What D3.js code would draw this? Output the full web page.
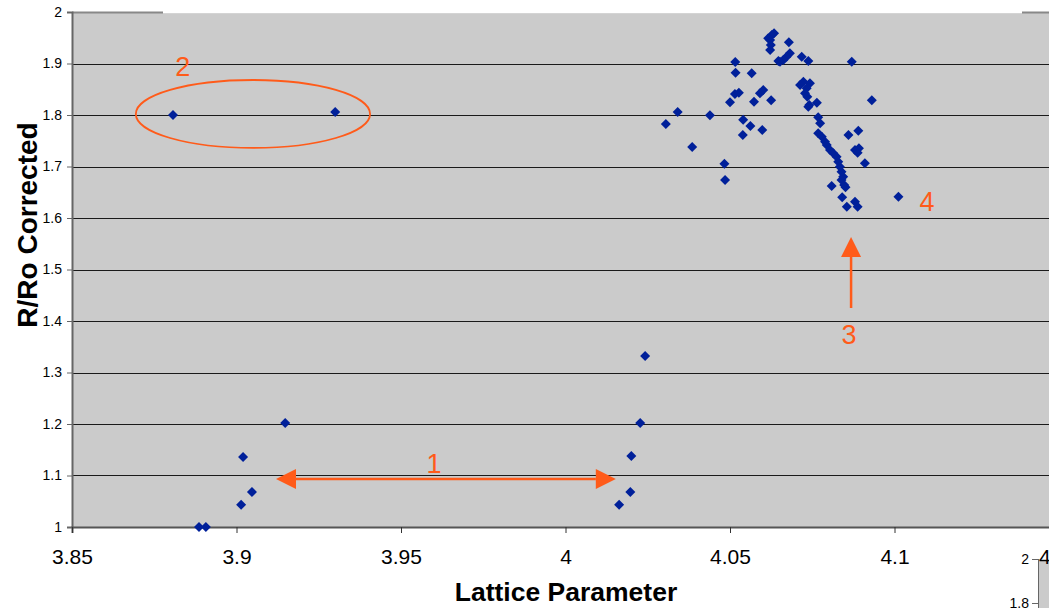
<!DOCTYPE html>
<html>
<head>
<meta charset="utf-8">
<script src="https://cdn.jsdelivr.net/npm/d3@7"></script>
<style>
  body { margin: 0; background: #fff; }
  svg { display: block; font-family: Arial, "Liberation Sans", sans-serif; }
</style>
</head>
<body>
<div id="chart"></div>
<script>
// lattice parameter vs R/Ro corrected
const lowPoints = [
    [3.8807, 1.800], [3.9300, 1.806],
    [3.8886, 1.000], [3.8907, 1.000], [3.9014, 1.043], [3.9047, 1.068],
    [3.9020, 1.136], [3.9148, 1.202],
    [4.0163, 1.043], [4.0197, 1.068], [4.0200, 1.138], [4.0227, 1.202], [4.0242, 1.332]
];

const highPoints = [
    [4.0305, 1.7825], [4.0341, 1.8058], [4.0385, 1.7379], [4.0439, 1.7994], [4.0483, 1.7054], [4.0485, 1.6738],
    [4.0516, 1.9029], [4.0517, 1.8821], [4.0515, 1.8408], [4.0527, 1.8433], [4.0500, 1.8247], [4.0540, 1.7909],
    [4.0562, 1.7786], [4.0539, 1.7612], [4.0566, 1.8810], [4.0591, 1.8421], [4.0601, 1.8485], [4.0573, 1.8258],
    [4.0625, 1.8285], [4.0598, 1.7709],
    [4.0627, 1.9553], [4.0634, 1.9586], [4.0622, 1.9456], [4.0616, 1.9489], [4.0624, 1.9359], [4.0622, 1.9262],
    [4.0679, 1.9412], [4.0682, 1.9198], [4.0672, 1.9132], [4.0662, 1.9068], [4.0652, 1.9035], [4.0647, 1.9049],
    [4.0718, 1.9132], [4.0738, 1.9049], [4.0870, 1.9035],
    [4.0723, 1.8647], [4.0713, 1.8583], [4.0743, 1.8616], [4.0733, 1.8518], [4.0728, 1.8421], [4.0735, 1.8355],
    [4.0741, 1.8194], [4.0764, 1.8239], [4.0931, 1.8285], [4.0738, 1.8161],
    [4.0768, 1.7955], [4.0774, 1.7839], [4.0768, 1.7645], [4.0779, 1.7579], [4.0789, 1.7482], [4.0794, 1.7417],
    [4.0804, 1.7320], [4.0814, 1.7256], [4.0824, 1.7190], [4.0829, 1.7093], [4.0834, 1.6996], [4.0839, 1.6899],
    [4.0844, 1.6802], [4.0839, 1.6738], [4.0847, 1.6641], [4.0851, 1.6596],
    [4.0809, 1.6621], [4.0841, 1.6402], [4.0855, 1.6220], [4.0880, 1.6316], [4.0888, 1.6220],
    [4.0860, 1.7612], [4.0890, 1.7695], [4.0880, 1.7320], [4.0892, 1.7353], [4.0888, 1.7268], [4.0910, 1.7062],
    [4.1012, 1.6414]
];

const xTicks = [3.85, 3.9, 3.95, 4, 4.05, 4.1, 4.15];
const xTickLabels = ["3.85", "3.9", "3.95", "4", "4.05", "4.1", "4.15"];
const yTicks = [1, 1.1, 1.2, 1.3, 1.4, 1.5, 1.6, 1.7, 1.8, 1.9, 2];
const yTickLabels = ["1", "1.1", "1.2", "1.3", "1.4", "1.5", "1.6", "1.7", "1.8", "1.9", "2"];

// annotation numbers: [x, y, text]
const noteLabels = [
    [3.8837, 1.8757, "2"],
    [3.9600, 1.1049, "1"],
    [4.0862, 1.3553, "3"],
    [4.1099, 1.6136, "4"]
];
const ellipseNote = { cx: 3.905, cy: 1.802, rx: 0.0356, ry: 0.066 };
const hArrow = { x1: 3.912, x2: 4.0153, y: 1.0932 };
const vArrow = { x: 4.0868, y1: 1.4252, y2: 1.5631 };

const width = 1049, height = 608;
const orange = "#ff5b1a";
const navy = "#00209a";

const svg = d3.select("#chart")
    .append("svg")
    .attr("width", width)
    .attr("height", height);

const x = d3.scaleLinear().domain([3.85, 4.15]).range([72, 1059]);
const y = d3.scaleLinear().domain([1, 2]).range([527, 12]);

// small piece of a second chart peeking in at bottom right
svg.append("rect").attr("x", 1039).attr("y", 559).attr("width", 12).attr("height", 50).attr("fill", "#cbcbcb");
svg.append("line").attr("x1", 1038.5).attr("x2", 1038.5).attr("y1", 559).attr("y2", 608).attr("stroke", "#666");
[[559, "2"], [603, "1.8"]].forEach(([py, t]) => {
    svg.append("line").attr("x1", 1032).attr("x2", 1038).attr("y1", py + 0.5).attr("y2", py + 0.5).attr("stroke", "#666");
    svg.append("text").attr("x", 1029).attr("y", py + 5).attr("text-anchor", "end")
        .style("font-size", "14px").text(t);
});

// plot area
svg.append("rect")
    .attr("x", x(3.85)).attr("y", y(2))
    .attr("width", width - x(3.85) + 5).attr("height", y(1) - y(2))
    .attr("fill", "#cbcbcb");

svg.append("line")
    .attr("x1", x(3.85)).attr("x2", width)
    .attr("y1", y(2) + 0.5).attr("y2", y(2) + 0.5)
    .attr("stroke", "#888").attr("stroke-width", 2);

// grid
svg.append("g")
    .selectAll("line")
    .data(yTicks.slice(1, -1))
    .join("line")
    .attr("x1", x(3.85)).attr("x2", width)
    .attr("y1", d => Math.round(y(d)) + 0.5).attr("y2", d => Math.round(y(d)) + 0.5)
    .attr("stroke", "#1a1a1a").attr("stroke-width", 1.2);

// axes
const yAxis = svg.append("g")
    .attr("transform", `translate(${x(3.85)},0)`)
    .call(d3.axisLeft(y).tickValues(yTicks).tickSize(5).tickPadding(5)
        .tickFormat((d, i) => yTickLabels[i]));
yAxis.select(".domain").attr("stroke", "#666").attr("stroke-width", 2);
yAxis.selectAll(".tick line").attr("stroke", "#666");
yAxis.selectAll("text").style("font-size", "14px").style("font-family", "Arial, 'Liberation Sans', sans-serif").attr("fill", "#000");

const xAxis = svg.append("g")
    .attr("transform", `translate(0,${y(1)})`)
    .call(d3.axisBottom(x).tickValues(xTicks).tickSize(6).tickPadding(16)
        .tickFormat((d, i) => xTickLabels[i]));
xAxis.select(".domain").attr("stroke", "#555").attr("stroke-width", 2);
xAxis.selectAll(".tick line").attr("stroke", "#333");
xAxis.selectAll("text").style("font-size", "21px").style("font-family", "Arial, 'Liberation Sans', sans-serif").attr("fill", "#000");

// white patch covering the top edge
svg.append("rect").attr("x", 163).attr("y", 0).attr("width", 1022 - 163).attr("height", 13.5).attr("fill", "#fff");

// axis titles
svg.append("text")
    .attr("transform", "translate(37,225) rotate(-90)")
    .attr("text-anchor", "middle")
    .style("font-size", "28px").style("font-weight", "bold")
    .text("R/Ro Corrected");

svg.append("text")
    .attr("x", 566).attr("y", 601)
    .attr("text-anchor", "middle")
    .style("font-size", "26.5px").style("font-weight", "bold")
    .text("Lattice Parameter");

// points
svg.append("g")
    .selectAll("path")
    .data(lowPoints.concat(highPoints))
    .join("path")
    .attr("transform", d => `translate(${x(d[0])},${y(d[1])}) rotate(45)`)
    .attr("d", d3.symbol().type(d3.symbolSquare).size(50))
    .attr("fill", navy);

// annotations
const notes = svg.append("g");

notes.append("ellipse")
    .attr("cx", x(ellipseNote.cx)).attr("cy", y(ellipseNote.cy))
    .attr("rx", x(ellipseNote.cx + ellipseNote.rx) - x(ellipseNote.cx))
    .attr("ry", y(ellipseNote.cy) - y(ellipseNote.cy + ellipseNote.ry))
    .attr("fill", "none").attr("stroke", orange).attr("stroke-width", 1.8);

notes.selectAll("text")
    .data(noteLabels)
    .join("text")
    .attr("x", d => x(d[0])).attr("y", d => y(d[1]))
    .attr("text-anchor", "middle")
    .style("font-size", "27px")
    .attr("fill", orange)
    .text(d => d[2]);

const head = 20, half = 10;
const ay = y(hArrow.y), ax1 = x(hArrow.x1), ax2 = x(hArrow.x2);
notes.append("line")
    .attr("x1", ax1 + head).attr("x2", ax2 - head).attr("y1", ay).attr("y2", ay)
    .attr("stroke", orange).attr("stroke-width", 2.5);
notes.append("path")
    .attr("d", `M${ax1},${ay}L${ax1 + head},${ay - half}L${ax1 + head},${ay + half}Z`)
    .attr("fill", orange);
notes.append("path")
    .attr("d", `M${ax2},${ay}L${ax2 - head},${ay - half}L${ax2 - head},${ay + half}Z`)
    .attr("fill", orange);

const vx = x(vArrow.x), vy1 = y(vArrow.y1), vy2 = y(vArrow.y2);
notes.append("line")
    .attr("x1", vx).attr("x2", vx).attr("y1", vy1).attr("y2", vy2 + head)
    .attr("stroke", orange).attr("stroke-width", 2.5);
notes.append("path")
    .attr("d", `M${vx},${vy2}L${vx - half},${vy2 + head}L${vx + half},${vy2 + head}Z`)
    .attr("fill", orange);
</script>
</body>
</html>
